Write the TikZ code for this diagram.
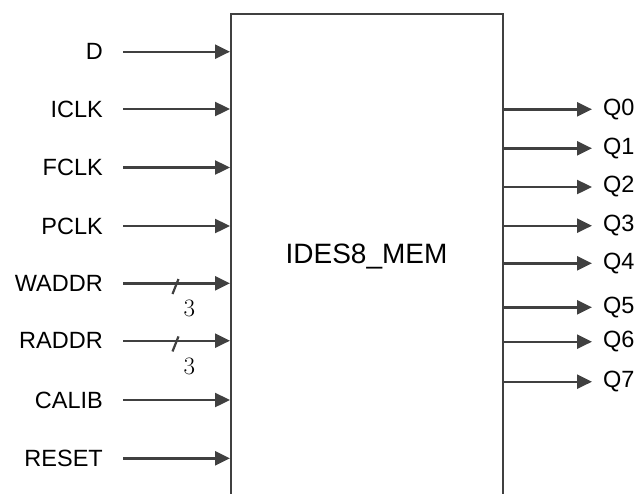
\documentclass[tikz,border=0pt]{standalone}
\usepackage{fontspec}
\setmainfont{Liberation Sans}
\newfontfamily\lmrfont{Latin Modern Roman}
\usetikzlibrary{arrows.meta}
\definecolor{ln}{HTML}{404040}
\begin{document}
\begin{tikzpicture}[x=1pt,y=-1pt,
  lbl/.style={font=\fontsize{23.5}{27}\selectfont, inner ysep=0pt},
  inlbl/.style={lbl, anchor=east, inner xsep=20pt},
  outlbl/.style={lbl, anchor=west, inner xsep=11pt},
  sig/.style={draw=ln, line width=2.4pt, -{Triangle[length=15pt,width=14pt]}},
  boxst/.style={draw=ln, line width=2.4pt, rectangle, minimum width=272pt, minimum height=520pt, anchor=north west, inner sep=0pt},
  bus/.style={draw=ln, line width=2.2pt},
  busnum/.style={font=\lmrfont\fontsize{25}{28}\selectfont, inner sep=0pt}
]
\useasboundingbox (0,0) rectangle (636,493);
\node[boxst] (box) at (230,12.5) {};
\node[font=\fontsize{28}{32}\selectfont, inner sep=0pt] (title) at (366.5,256) {IDES8\_MEM};
% inputs
\node[inlbl] (D) at (123,51.7) {D};
\node[inlbl] (ICLK) at (123,109) {ICLK};
\node[inlbl] (FCLK) at (123,167.5) {FCLK};
\node[inlbl] (PCLK) at (123,226) {PCLK};
\node[inlbl] (WADDR) at (123,283.3) {WADDR};
\node[inlbl] (RADDR) at (123,340.7) {RADDR};
\node[inlbl] (CALIB) at (123,400) {CALIB};
\node[inlbl] (RESET) at (123,458.3) {RESET};
\foreach \n in {D,ICLK,FCLK,PCLK,WADDR,RADDR,CALIB,RESET}
  \draw[sig] (\n.east) -- (\n.east -| box.west);
% bus marks
\coordinate (w1) at (172.5,294); \coordinate (w2) at (178.5,279);
\coordinate (r1) at (172.5,351.4); \coordinate (r2) at (178.5,336.4);
\draw[bus] (w1) -- (w2);
\draw[bus] (r1) -- (r2);
\node[busnum] (wn) at (189.3,308) {3};
\node[busnum] (rn) at (189.3,366) {3};
% outputs
\node[outlbl] (Q0) at (592,109.3) {Q0};
\node[outlbl] (Q1) at (592,148.3) {Q1};
\node[outlbl] (Q2) at (592,187) {Q2};
\node[outlbl] (Q3) at (592,225.7) {Q3};
\node[outlbl] (Q4) at (592,263.3) {Q4};
\node[outlbl] (Q5) at (592,307.3) {Q5};
\node[outlbl] (Q6) at (592,341.7) {Q6};
\node[outlbl] (Q7) at (592,381.7) {Q7};
\foreach \n in {Q0,Q1,Q2,Q3,Q4,Q5,Q6,Q7}
  \draw[sig] (box.east |- \n.west) -- (\n.west);
\end{tikzpicture}
\end{document}
